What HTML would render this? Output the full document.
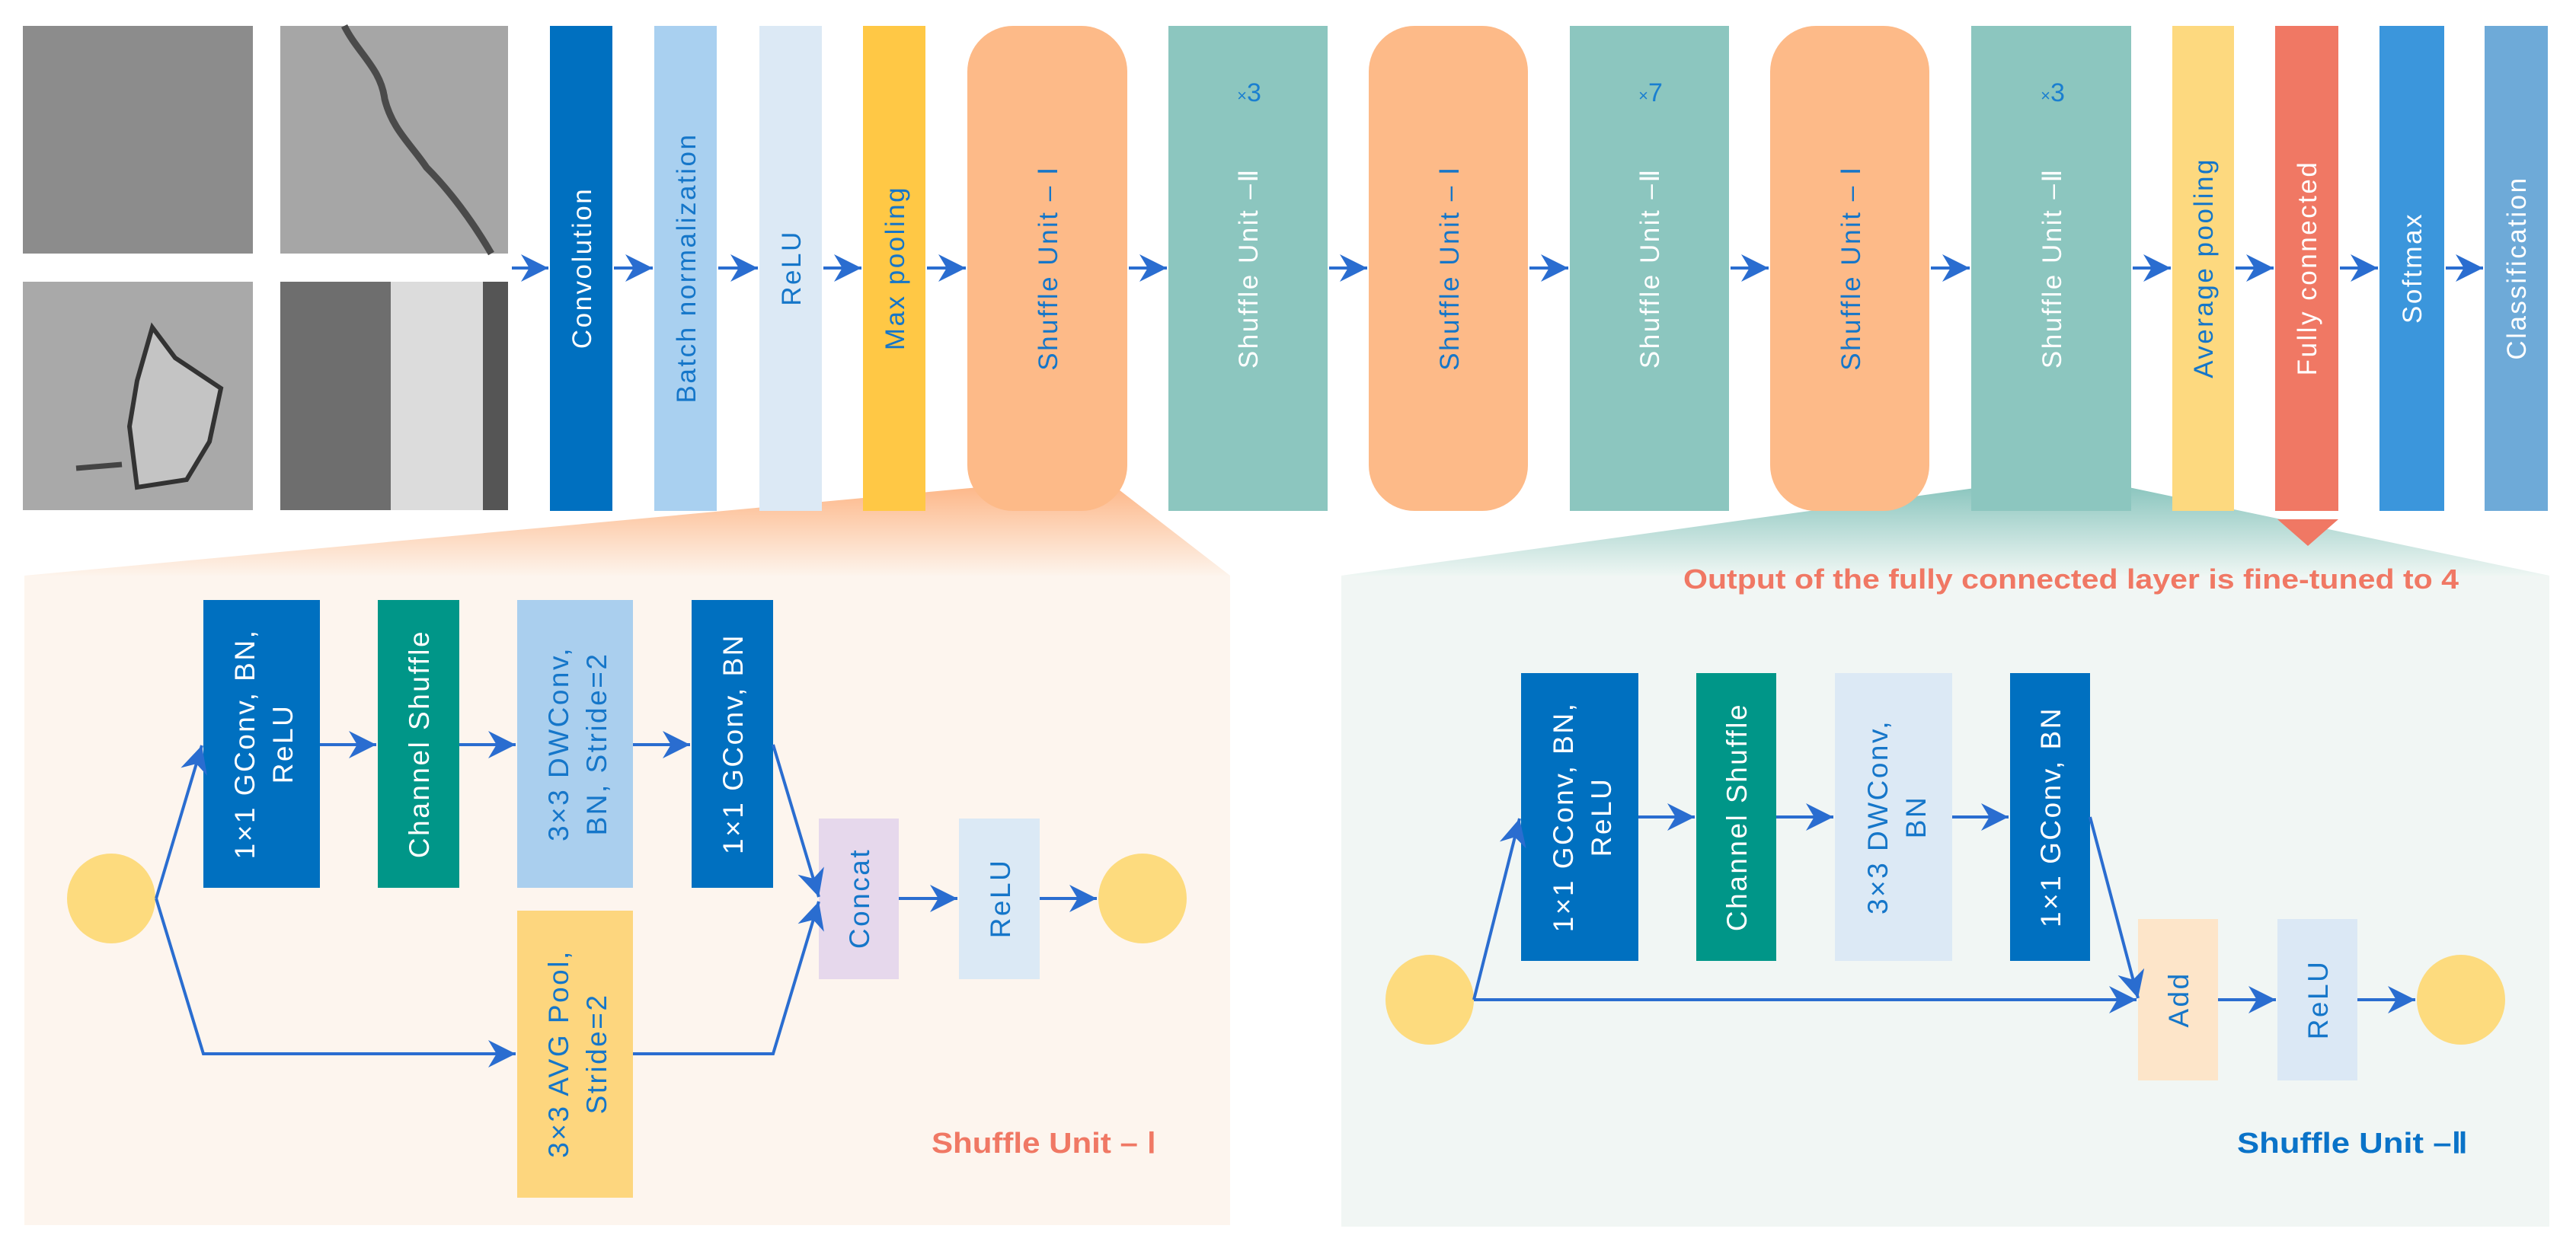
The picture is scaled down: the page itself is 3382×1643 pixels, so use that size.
<!DOCTYPE html>
<html><head><meta charset="utf-8"><style>
html,body{margin:0;padding:0;background:#fff;}
svg{display:block;}
text{font-family:"Liberation Sans",Arial,sans-serif;}
.tl{font-size:35px;letter-spacing:2.5px;}
.pl{font-size:37px;letter-spacing:2.5px;}
.cond{font-family:"Liberation Sans Narrow","Liberation Sans",sans-serif;font-weight:bold;}
</style></head><body>
<svg width="3382" height="1643" viewBox="0 0 3382 1643" xmlns="http://www.w3.org/2000/svg">
<defs>
<marker id="a" viewBox="0 0 10 10" refX="10" refY="5" markerWidth="9" markerHeight="9" orient="auto">
<path d="M0,0 L10,5 L0,10 L3,5 z" fill="#2a6dd0"/>
</marker>
<linearGradient id="gfo" x1="0" y1="0" x2="0" y2="1">
<stop offset="0" stop-color="#fdb88a"/><stop offset="1" stop-color="#fdf4ec"/>
</linearGradient>
<linearGradient id="gft" x1="0" y1="0" x2="0" y2="1">
<stop offset="0" stop-color="#8cc6bf"/><stop offset="1" stop-color="#eef6f3"/>
</linearGradient>
</defs>

<polygon points="32,756 1285,640 1465,640 1615,756" fill="url(#gfo)"/>
<rect x="32" y="756" width="1583" height="853" fill="#fdf5ee"/>
<polygon points="1761,756 2600,640 2795,640 3347,756" fill="url(#gft)"/>
<rect x="1761" y="756" width="1586" height="855" fill="#f1f6f4"/>

<rect x="30" y="34" width="302" height="299" fill="#8c8c8c"/>
<rect x="368" y="34" width="299" height="299" fill="#a6a6a6"/>
<path d="M452,34 C470,70 500,90 505,130 C515,170 540,190 560,220 C590,250 620,290 645,333" stroke="#4a4a4a" stroke-width="9" fill="none"/>
<rect x="30" y="370" width="302" height="300" fill="#a9a9a9"/>
<path d="M200,430 L230,470 L290,510 L275,580 L245,630 L180,640 L170,560 L180,500 Z" fill="#c4c4c4" stroke="#333" stroke-width="6"/>
<path d="M100,615 L160,610" stroke="#444" stroke-width="7"/>
<rect x="368" y="370" width="145" height="300" fill="#6e6e6e"/>
<rect x="513" y="370" width="121" height="300" fill="#dcdcdc"/>
<rect x="634" y="370" width="33" height="300" fill="#555"/>

<rect x="722" y="34" width="82" height="637" fill="#0070c0"/>
<rect x="859" y="34" width="82" height="637" fill="#a9d0f0"/>
<rect x="997" y="34" width="82" height="637" fill="#dce9f5"/>
<rect x="1133" y="34" width="82" height="637" fill="#ffc845"/>
<rect x="1270" y="34" width="210" height="637" rx="60" fill="#fdba88"/>
<rect x="1534" y="34" width="209" height="637" fill="#8cc6bf"/>
<rect x="1797" y="34" width="209" height="637" rx="60" fill="#fdba88"/>
<rect x="2061" y="34" width="209" height="637" fill="#8cc6bf"/>
<rect x="2324" y="34" width="209" height="637" rx="60" fill="#fdba88"/>
<rect x="2588" y="34" width="210" height="637" fill="#8cc6bf"/>
<rect x="2852" y="34" width="81" height="637" fill="#fdd97f"/>
<rect x="2987" y="34" width="83" height="637" fill="#f07864"/>
<rect x="3124" y="34" width="85" height="637" fill="#3b96dc"/>
<rect x="3262" y="34" width="83" height="637" fill="#6eaad8"/>
<polygon points="2990,682 3070,682 3030,717" fill="#f07864"/>

<g class="tl" text-anchor="middle">
<text transform="translate(776,352) rotate(-90)" fill="#fff">Convolution</text>
<text transform="translate(913,352) rotate(-90)" fill="#1576c9">Batch normalization</text>
<text transform="translate(1051,352) rotate(-90)" fill="#1576c9">ReLU</text>
<text transform="translate(1187,352) rotate(-90)" fill="#1576c9">Max pooling</text>
<text transform="translate(1388,352) rotate(-90)" fill="#1576c9">Shuffle Unit – Ⅰ</text>
<text transform="translate(1651,352) rotate(-90)" fill="#fff">Shuffle Unit –Ⅱ</text>
<text transform="translate(1915,352) rotate(-90)" fill="#1576c9">Shuffle Unit – Ⅰ</text>
<text transform="translate(2178,352) rotate(-90)" fill="#fff">Shuffle Unit –Ⅱ</text>
<text transform="translate(2442,352) rotate(-90)" fill="#1576c9">Shuffle Unit – Ⅰ</text>
<text transform="translate(2706,352) rotate(-90)" fill="#fff">Shuffle Unit –Ⅱ</text>
<text transform="translate(2905,352) rotate(-90)" fill="#1576c9">Average pooling</text>
<text transform="translate(3041,352) rotate(-90)" fill="#fff">Fully connected</text>
<text transform="translate(3179,352) rotate(-90)" fill="#fff">Softmax</text>
<text transform="translate(3316,352) rotate(-90)" fill="#fff">Classification</text>
</g>
<g font-size="34" fill="#1a7fd0" text-anchor="middle">
<text x="1640" y="133"><tspan font-size="22">×</tspan>3</text>
<text x="2167" y="133"><tspan font-size="22">×</tspan>7</text>
<text x="2695" y="133"><tspan font-size="22">×</tspan>3</text>
</g>

<g stroke="#2a6dd0" stroke-width="4" marker-end="url(#a)">
<line x1="672" y1="352" x2="720" y2="352"/>
<line x1="806" y1="352" x2="857" y2="352"/>
<line x1="943" y1="352" x2="995" y2="352"/>
<line x1="1081" y1="352" x2="1131" y2="352"/>
<line x1="1217" y1="352" x2="1268" y2="352"/>
<line x1="1482" y1="352" x2="1532" y2="352"/>
<line x1="1745" y1="352" x2="1795" y2="352"/>
<line x1="2008" y1="352" x2="2059" y2="352"/>
<line x1="2272" y1="352" x2="2322" y2="352"/>
<line x1="2535" y1="352" x2="2586" y2="352"/>
<line x1="2800" y1="352" x2="2850" y2="352"/>
<line x1="2935" y1="352" x2="2985" y2="352"/>
<line x1="3072" y1="352" x2="3122" y2="352"/>
<line x1="3211" y1="352" x2="3260" y2="352"/>
</g>

<text x="2210" y="773" class="cond" font-size="36" fill="#f07864" textLength="1018" lengthAdjust="spacingAndGlyphs">Output of the fully connected layer is fine-tuned to 4</text>

<rect x="267" y="788" width="153" height="378" fill="#0070c0"/>
<rect x="496" y="788" width="107" height="378" fill="#009688"/>
<rect x="679" y="788" width="152" height="378" fill="#aacfee"/>
<rect x="908" y="788" width="107" height="378" fill="#0070c0"/>
<rect x="679" y="1196" width="152" height="377" fill="#fdd67e"/>
<rect x="1075" y="1075" width="105" height="211" fill="#e6d8ec"/>
<rect x="1259" y="1075" width="106" height="211" fill="#dbe9f5"/>
<ellipse cx="146" cy="1180" rx="58" ry="59" fill="#fddb7e"/>
<ellipse cx="1500" cy="1180" rx="58" ry="59" fill="#fddb7e"/>
<g class="pl" text-anchor="middle">
<text transform="translate(334,977) rotate(-90)" fill="#fff">1×1 GConv, BN,</text>
<text transform="translate(384,977) rotate(-90)" fill="#fff">ReLU</text>
<text transform="translate(563,977) rotate(-90)" fill="#fff">Channel Shuffle</text>
<text transform="translate(746,977) rotate(-90)" fill="#1576c9">3×3 DWConv,</text>
<text transform="translate(796,977) rotate(-90)" fill="#1576c9">BN, Stride=2</text>
<text transform="translate(975,977) rotate(-90)" fill="#fff">1×1 GConv, BN</text>
<text transform="translate(746,1384) rotate(-90)" fill="#1576c9">3×3 AVG Pool,</text>
<text transform="translate(796,1384) rotate(-90)" fill="#1576c9">Stride=2</text>
<text transform="translate(1141,1180) rotate(-90)" fill="#1576c9">Concat</text>
<text transform="translate(1326,1180) rotate(-90)" fill="#1576c9">ReLU</text>
</g>
<g stroke="#2a6dd0" stroke-width="4" fill="none">
<polyline points="205,1180 265,979" marker-end="url(#a)"/>
<polyline points="205,1180 267,1384 677,1384" marker-end="url(#a)"/>
<line x1="420" y1="978" x2="494" y2="978" marker-end="url(#a)"/>
<line x1="603" y1="978" x2="677" y2="978" marker-end="url(#a)"/>
<line x1="831" y1="978" x2="906" y2="978" marker-end="url(#a)"/>
<polyline points="1015,978 1075,1178" marker-end="url(#a)"/>
<polyline points="831,1384 1015,1384 1075,1184" marker-end="url(#a)"/>
<line x1="1180" y1="1180" x2="1257" y2="1180" marker-end="url(#a)"/>
<line x1="1365" y1="1180" x2="1440" y2="1180" marker-end="url(#a)"/>
</g>
<text x="1223" y="1514" class="cond" font-size="38" fill="#f07864" textLength="295" lengthAdjust="spacingAndGlyphs">Shuffle Unit – Ⅰ</text>

<rect x="1997" y="884" width="154" height="378" fill="#0070c0"/>
<rect x="2227" y="884" width="105" height="378" fill="#009688"/>
<rect x="2409" y="884" width="154" height="378" fill="#dce9f5"/>
<rect x="2639" y="884" width="105" height="378" fill="#0070c0"/>
<rect x="2807" y="1207" width="105" height="212" fill="#fde5c9"/>
<rect x="2990" y="1207" width="105" height="212" fill="#dbe8f5"/>
<ellipse cx="1877" cy="1313" rx="58" ry="59" fill="#fddb7e"/>
<ellipse cx="3231" cy="1313" rx="58" ry="59" fill="#fddb7e"/>
<g class="pl" text-anchor="middle">
<text transform="translate(2065,1073) rotate(-90)" fill="#fff">1×1 GConv, BN,</text>
<text transform="translate(2115,1073) rotate(-90)" fill="#fff">ReLU</text>
<text transform="translate(2293,1073) rotate(-90)" fill="#fff">Channel Shuffle</text>
<text transform="translate(2478,1073) rotate(-90)" fill="#1576c9">3×3 DWConv,</text>
<text transform="translate(2528,1073) rotate(-90)" fill="#1576c9">BN</text>
<text transform="translate(2705,1073) rotate(-90)" fill="#fff">1×1 GConv, BN</text>
<text transform="translate(2873,1313) rotate(-90)" fill="#1576c9">Add</text>
<text transform="translate(3056,1313) rotate(-90)" fill="#1576c9">ReLU</text>
</g>
<g stroke="#2a6dd0" stroke-width="4" fill="none">
<polyline points="1935,1313 1995,1075" marker-end="url(#a)"/>
<line x1="1935" y1="1313" x2="2805" y2="1313" marker-end="url(#a)"/>
<line x1="2151" y1="1073" x2="2225" y2="1073" marker-end="url(#a)"/>
<line x1="2332" y1="1073" x2="2407" y2="1073" marker-end="url(#a)"/>
<line x1="2563" y1="1073" x2="2637" y2="1073" marker-end="url(#a)"/>
<polyline points="2744,1073 2807,1311" marker-end="url(#a)"/>
<line x1="2912" y1="1313" x2="2988" y2="1313" marker-end="url(#a)"/>
<line x1="3095" y1="1313" x2="3171" y2="1313" marker-end="url(#a)"/>
</g>
<text x="2937" y="1514" class="cond" font-size="38" fill="#0a73c8" textLength="303" lengthAdjust="spacingAndGlyphs">Shuffle Unit –Ⅱ</text>
</svg>
</body></html>
